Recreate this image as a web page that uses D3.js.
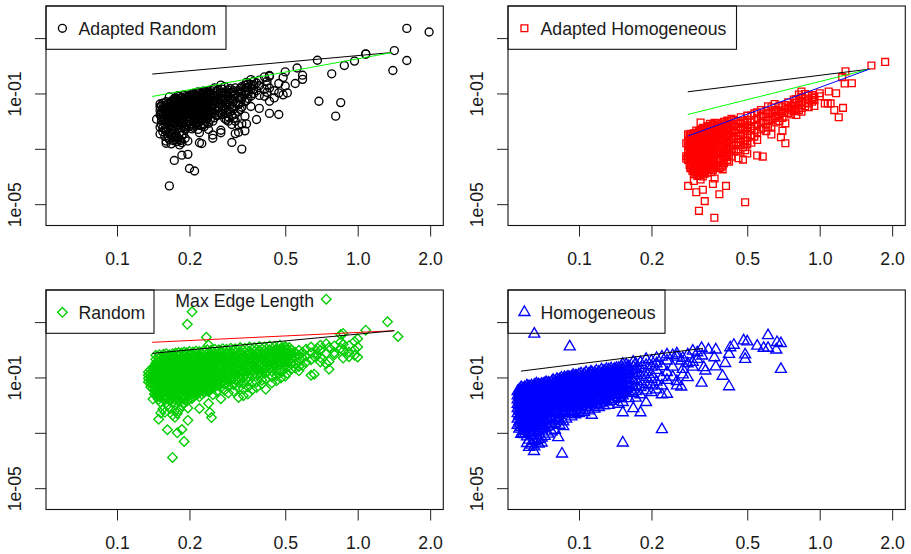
<!DOCTYPE html>
<html>
<head>
<meta charset="utf-8">
<script src="https://d3js.org/d3.v7.min.js"></script>
<style>
	body { margin: 0; background: #fff; }
	text { font-family: "Liberation Sans", Arial, sans-serif; fill: #1a1a1a; }
</style>
</head>
<body>
<div class="container"></div>
<script>
"use strict";

// every row is [edge length, log10(error), log10(error), ...]
const adaptedRandomPts = [
	[1.6, 1.35, 0.19], [1.98, 1.22], [1.42, 0.55], [1.4, -0.17], [1.08, 0.43, 0.42], [0.97, 0.17], [0.88, 0.01],
	[0.78, -0.29], [0.68, 0.2], [0.69, -1.28], [0.85, -1.33], [0.81, -1.82], [0.56, -0.08], [0.59, -0.34, -0.49],
	[0.55, -0.64], [0.51, -0.98], [0.5, -0.22, -0.73], [0.49, -0.42, -1.05], [0.47, -0.64, -1.76, -0.98], [0.45, -0.9, -1.16],
	[0.43, -0.35, -0.38, -1.72, -0.8, -1.28], [0.41, -0.4, -0.85, -1.1], [0.39, -0.52, -0.72, -1.07, -1.54], [0.38, -1.94, -0.62, -0.9],
	[0.36, -0.5, -0.67, -0.85, -1.1, -1.47], [0.345, -0.6, -0.78, -0.95, -1.25, -2.1], [0.34, -0.7, -0.9, -1.3, -1.82, -2.35],
	[0.33, -0.75, -1.0, -1.2, -1.5, -3.01, -2.1], [0.32, -0.9, -1.12, -1.4, -1.65, -2.15, -2.4], [0.31, -0.8, -1.05, -1.35, -1.75, -2.0, -2.45],
	[0.3, -0.95, -1.2, -1.48, -1.8, -2.12, -2.77], [0.29, -0.88, -1.1, -1.3, -1.6, -1.85, -2.0], [0.28, -0.75, -1.02, -1.25, -1.55, -1.9],
	[0.27, -0.7, -1.0, -1.18, -1.4, -1.7, -2.33, -2.42], [0.26, -0.92, -1.15, -1.32, -1.52, -1.8], [0.25, -0.85, -1.05, -1.28, -1.45, -1.7, -2.0, -2.5, -2.62],
	[0.24, -0.9, -1.0, -1.2, -1.36, -1.6, -1.78, -2.08, -2.3], [0.23, -0.95, -1.1, -1.25, -1.42, -1.58, -1.86, -2.1, -2.2], [0.225, -1.0, -1.3, -1.5, -1.72, -1.95, -2.81],
	[0.22, -0.98, -1.12, -1.27, -1.46, -1.66, -1.88, -2.04, -2.42, -2.78], [0.21, -1.02, -1.18, -1.35, -1.52, -1.7, -1.92, -2.15, -3.8], [0.205, -1.08, -1.24, -1.44, -1.62, -1.8, -2.28],
	[0.2, -1.05, -1.2, -1.38, -1.55, -1.74, -1.98, -2.18, -3.71], [0.197, -1.15, -1.3, -1.48, -1.67, -2.05, -2.72, -3.2], [0.192, -1.12, -1.28, -1.42, -1.6, -1.82, -2.3, -2.62],
	[0.186, -1.14, -1.3, -1.5, -1.7, -1.9, -2.12, -2.5, -2.78, -3.23], [0.182, -1.1, -1.26, -1.45, -1.62, -1.84, -2.02, -2.4, -2.66, -2.86], [0.177, -1.2, -1.36, -1.56, -1.78, -1.96, -2.2, -2.55, -2.74],
	[0.173, -1.18, -1.33, -1.52, -1.72, -1.92, -2.1, -2.35, -2.6, -3.42], [0.168, -1.28, -1.44, -1.62, -1.82, -2.06, -2.28, -2.48, -2.82], [0.165, -1.12, -1.4, -1.58, -1.76, -2.0, -2.42, -2.66, -4.34],
	[0.16, -1.3, -1.5, -1.66, -1.86, -2.02, -2.36, -2.72, -2.8], [0.155, -1.35, -1.55, -1.72, -1.9, -2.25, -2.38], [0.151, -1.38, -1.48, -1.62, -1.78, -2.22, -2.46], [0.146, -1.93],
	// the solid part of the cloud
	[0.153, -1.44, -1.68, -1.84, -1.98, -2.12], [0.158, -1.42, -1.6, -1.78, -1.94, -2.1, -2.3, -2.55], [0.163, -1.36, -1.54, -1.7, -1.92, -2.08, -2.26, -2.6],
	[0.171, -1.26, -1.46, -1.58, -1.68, -1.86, -2.02, -2.16, -2.3, -2.7], [0.175, -1.16, -1.3, -1.42, -1.6, -1.7, -1.88, -2.04, -2.44, -2.68], [0.179, -1.08, -1.24, -1.4, -1.5, -1.66, -1.8, -2.0, -2.14, -2.62],
	[0.184, -1.18, -1.34, -1.46, -1.58, -1.76, -1.94, -2.08, -2.24, -2.7], [0.189, -1.06, -1.22, -1.36, -1.54, -1.66, -1.86, -2.02, -2.2, -2.46], [0.194, -1.2, -1.34, -1.5, -1.64, -1.78, -1.92, -2.12, -2.26],
	[0.199, -1.1, -1.26, -1.44, -1.58, -1.72, -1.88, -2.04, -2.2], [0.203, -1.16, -1.32, -1.46, -1.6, -1.76, -1.9, -2.1], [0.207, -1.0, -1.14, -1.28, -1.42, -1.56, -1.66, -1.84, -2.02, -2.22],
	[0.213, -1.08, -1.22, -1.38, -1.5, -1.64, -1.78, -1.96, -2.1], [0.217, -0.94, -1.14, -1.32, -1.44, -1.58, -1.74, -1.9, -2.06, -2.3], [0.222, -1.04, -1.2, -1.36, -1.52, -1.62, -1.8, -1.98, -2.16],
	[0.228, -0.92, -1.06, -1.18, -1.34, -1.48, -1.64, -1.78, -1.92, -2.14], [0.234, -1.02, -1.16, -1.3, -1.46, -1.54, -1.7, -1.84, -2.0], [0.238, -0.96, -1.08, -1.24, -1.4, -1.56, -1.68, -1.9],
	[0.244, -0.88, -1.04, -1.16, -1.3, -1.44, -1.62, -1.76, -1.94], [0.254, -0.8, -0.98, -1.1, -1.24, -1.38, -1.56, -1.72, -1.88], [0.264, -0.86, -1.04, -1.2, -1.36, -1.5, -1.64, -1.78],
	[0.274, -0.84, -1.08, -1.22, -1.46, -1.6, -1.76], [0.285, -0.94, -1.14, -1.36, -1.5, -1.7, -1.96], [0.295, -0.82, -1.0, -1.24, -1.42, -1.66], [0.305, -0.9, -1.1, -1.28, -1.56, -1.9],
	[0.325, -0.82, -0.96, -1.16, -1.34, -1.58], [0.35, -0.66, -0.8, -1.02, -1.18], [0.37, -0.56, -0.7, -0.84, -1.0], [0.42, -0.56, -0.7, -0.96]
];

const adaptedHomogPts = [
	[1.87, 0.14], [1.64, 0.01], [1.36, -0.63], [1.28, -0.2], [1.27, -0.64], [1.25, -1.52], [1.24, -0.41], [1.2, -1.86], [1.17, -0.99], [1.15, -1.6],
	[1.11, -1.36], [1.09, -0.93], [1.08, -1.36], [1.05, -1.36], [1.0, -0.99, -1.1], [0.95, -1.14, -1.24, -1.45], [0.9, -1.08, -1.22, -1.36, -1.5], [0.84, -0.93, -1.12, -1.3, -1.52, -1.66],
	[0.8, -1.2, -1.34, -1.55, -1.78], [0.76, -1.46, -1.6, -1.76], [0.72, -1.42, -1.58, -2.08, -2.8], [0.7, -1.5, -1.7, -1.88, -2.35], [0.69, -1.66, -2.58], [0.66, -1.6, -1.82, -2.05],
	[0.63, -1.5, -1.72, -1.94, -2.2, -2.48], [0.6, -1.62, -1.84, -2.1, -2.36], [0.58, -1.75, -2.0, -2.24, -3.28], [0.55, -1.68, -1.9, -2.12, -2.4, -2.68, -3.24], [0.52, -1.8, -2.02, -2.26, -2.5, -2.78],
	[0.5, -1.95, -2.15, -2.36, -2.6, -2.84, -3.17], [0.49, -2.05, -2.3, -2.7, -3.05, -4.93], [0.48, -2.0, -2.22, -2.48, -2.72, -2.94, -3.39], [0.46, -2.1, -2.32, -2.54, -2.76, -3.02, -3.34], [0.44, -1.96, -2.16, -2.4, -2.6, -2.86, -3.1],
	[0.42, -2.04, -2.24, -2.46, -2.68, -2.92, -3.22, -3.46], [0.408, -2.12, -2.36, -2.58, -2.8, -3.0, -3.3, -4.34], [0.395, -2.08, -2.26, -2.5, -2.7, -2.96, -3.16, -3.6, -3.74], [0.383, -2.16, -2.38, -2.6, -2.84, -3.08, -3.36, -3.7, -4.64],
	[0.372, -2.2, -2.42, -2.62, -2.86, -3.1, -3.4, -3.66], [0.366, -2.06, -2.3, -2.52, -2.78, -3.02, -3.28, -3.58, -4.07], [0.36, -2.14, -2.34, -2.56, -2.76, -2.98, -3.2, -3.5, -3.76, -4.27], [0.35, -2.1, -2.28, -2.48, -2.7, -2.9, -3.14, -3.44, -3.72],
	[0.342, -2.18, -2.4, -2.6, -2.82, -3.04, -3.26, -3.54, -3.86], [0.333, -2.26, -2.46, -2.66, -2.88, -3.12, -3.32, -3.62, -3.9, -4.89], [0.327, -2.24, -2.44, -2.64, -2.84, -3.06, -3.3, -3.52, -3.78, -4.0, -4.48], [0.32, -2.05, -2.32, -2.5, -2.72, -2.94, -3.18, -3.42, -3.64, -3.94, -4.11],
	[0.315, -2.36, -2.56, -2.78, -3.0, -3.2, -3.46, -3.68, -3.96, -5.24], [0.31, -2.42, -2.62, -2.82, -3.04, -3.24, -3.48, -3.74, -3.98], [0.307, -2.34, -2.54, -2.74, -2.96, -3.16, -3.38, -3.6, -3.82, -4.57], [0.3, -2.44, -2.64, -2.86, -3.08, -3.28, -3.52, -3.76, -3.92, -4.16],
	[0.296, -2.5, -2.68, -2.9, -3.1, -3.34, -3.56, -3.8], [0.292, -2.46, -2.66, -2.84, -3.02, -3.22, -3.44, -3.66], [0.288, -2.52, -2.7, -2.92, -3.12, -3.36, -3.58], [0.284, -2.48, -2.72, -2.88, -3.06, -3.26, -3.4, -4.34], [0.279, -2.8, -3.27, -3.36],
	// the solid part of the cloud
	[0.365, -5.49], [0.29, -2.6, -2.78, -2.98, -3.18, -3.3, -3.5, -3.7], [0.298, -2.56, -2.76, -2.94, -3.14, -3.24, -3.42, -3.6, -3.72], [0.304, -2.48, -2.68, -2.8, -3.0, -3.12, -3.32, -3.44, -3.66, -3.86],
	[0.312, -2.46, -2.66, -2.86, -3.1, -3.28, -3.4, -3.56, -3.84], [0.318, -2.4, -2.6, -2.7, -2.9, -3.08, -3.22, -3.36, -3.54, -3.72], [0.324, -2.34, -2.54, -2.74, -2.98, -3.14, -3.38, -3.58, -3.88],
	[0.33, -2.3, -2.52, -2.72, -2.92, -3.02, -3.2, -3.44, -3.66, -3.82], [0.337, -2.28, -2.5, -2.7, -2.94, -3.16, -3.4, -3.6, -3.76], [0.346, -2.2, -2.38, -2.58, -2.8, -3.0, -3.22, -3.5, -3.64],
	[0.355, -2.24, -2.44, -2.62, -2.84, -3.06, -3.3, -3.56, -3.84], [0.363, -2.12, -2.4, -2.66, -2.9, -3.12, -3.4, -3.68], [0.377, -2.08, -2.28, -2.5, -2.72, -2.94, -3.18, -3.44, -3.6],
	[0.388, -2.22, -2.44, -2.66, -2.9, -3.14, -3.42, -3.66], [0.4, -2.02, -2.18, -2.4, -2.62, -2.86, -3.06, -3.26, -3.52], [0.413, -1.98, -2.28, -2.52, -2.74, -2.98, -3.14, -3.4], [0.43, -1.92, -2.1, -2.32, -2.54, -2.78, -3.0, -3.28],
	[0.45, -2.0, -2.2, -2.42, -2.64, -2.88, -3.08], [0.47, -1.86, -2.06, -2.28, -2.5, -2.66, -2.86], [0.5, -1.8, -2.02, -2.24, -2.46, -2.72], [0.535, -1.72, -1.96, -2.18, -2.34, -2.56], [0.57, -1.6, -1.82, -2.06, -2.3],
	[0.61, -1.46, -1.7, -1.98, -2.22], [0.65, -1.38, -1.66, -1.88], [0.68, -1.44, -1.62, -1.8, -2.0], [0.74, -1.32, -1.52, -1.7], [0.78, -1.22, -1.44, -1.64], [0.82, -1.04, -1.26, -1.42, -1.6], [0.87, -1.02, -1.18, -1.34, -1.46], [0.93, -1.06, -1.16, -1.3]
];

const randomPts = [
	[1.47, 0.48], [1.33, 1.01], [1.08, 0.71], [1.0, 0.1, -0.26, 0.4], [0.97, 0.3, 0.0, -0.2], [0.92, 0.15, -0.08, -0.25], [0.87, 0.59, 0.2, -0.04, -0.3], [0.85, 0.55, 0.28, 0.06],
	[0.8, 0.14, -0.1, -0.18], [0.76, -0.7, 0.08, -0.42], [0.74, 1.83, 0.22, -0.12, -0.5], [0.7, 0.16, -0.02, -0.28, -0.44], [0.68, 0.06, -0.16], [0.66, -0.88, -0.24], [0.64, -0.92, 0.1, -0.12, -0.36],
	[0.61, 0.02, -0.22, -0.45], [0.59, -0.1, -0.3, -0.58], [0.57, -0.76, -0.02, -0.2, -0.42, -0.6], [0.55, -0.1, -0.28, -0.5, -0.66], [0.53, -0.02, -0.18, -0.34, -0.52, -0.7], [0.51, 0.0, -0.14, -0.3, -0.46, -0.62, -0.85],
	[0.5, 0.1, -0.08, -0.24, -0.4, -0.56, -0.96], [0.48, 0.06, -0.12, -0.28, -0.44, -0.66, -0.82, -1.02], [0.46, -0.02, -0.2, -0.36, -0.52, -0.74, -0.94, -1.12], [0.44, -0.06, -0.26, -0.42, -0.6, -0.78, -0.98, -1.2],
	[0.415, -0.1, -0.3, -0.46, -0.64, -0.82, -1.06, -1.43], [0.4, -0.16, -0.34, -0.5, -0.68, -0.88, -1.1, -1.24], [0.38, -0.12, -0.3, -0.48, -0.66, -0.9, -1.16, -1.36], [0.365, -0.2, -0.38, -0.56, -0.72, -0.94, -1.2, -1.44],
	[0.35, -0.18, -0.36, -0.54, -0.74, -0.96, -1.14, -1.34, -1.6], [0.335, -0.24, -0.42, -0.6, -0.78, -1.0, -1.22, -1.42, -1.66], [0.32, -0.22, -0.4, -0.58, -0.76, -0.98, -1.18, -1.38, -1.72], [0.305, -0.02, -0.28, -0.46, -0.64, -0.82, -1.02, -1.26, -1.5],
	[0.29, -0.24, -0.44, -0.6, -0.8, -0.96, -1.14, -1.3, -1.56], [0.28, -0.3, -0.5, -0.7, -0.86, -1.04, -1.24, -1.46], [0.27, -0.12, -0.34, -0.52, -0.68, -0.84, -1.0, -1.18, -1.36, -1.77], [0.26, -0.28, -0.46, -0.62, -0.78, -0.94, -1.1, -1.28, -1.5],
	[0.25, -0.3, -0.44, -0.58, -0.72, -0.86, -1.02, -1.2, -1.38, -1.62], [0.247, -0.36, -0.5, -0.66, -0.8, -0.94, -1.08, -1.3, -2.45], [0.243, -0.32, -0.46, -0.6, -0.74, -0.9, -1.06, -1.22, -1.44, -2.27],
	[0.24, 0.17, -0.36, -0.52, -0.64, -0.78, -0.92, -1.12, -1.34, -1.52, -1.94], [0.235, 0.45, -0.34, -0.48, -0.62, -0.76, -0.9, -1.04, -1.18, -1.32, -1.48], [0.23, -0.38, -0.5, -0.64, -0.78, -0.92, -1.06, -1.2, -1.36, -1.54],
	[0.225, -0.32, -0.44, -0.58, -0.7, -0.84, -0.98, -1.12, -1.28, -1.42, -1.6], [0.22, -0.36, -0.48, -0.6, -0.72, -0.86, -1.0, -1.14, -1.26, -1.44, -1.7, -2.12], [0.215, -0.4, -0.52, -0.66, -0.78, -0.9, -1.04, -1.18, -1.3, -1.46, -1.62],
	[0.21, -0.34, -0.46, -0.58, -0.7, -0.82, -0.96, -1.08, -1.22, -1.36, -1.52, -1.66], [0.205, 1.37, -0.38, -0.5, -0.62, -0.74, -0.86, -1.0, -1.12, -1.24, -1.4, -1.56, -1.76], [0.2, -0.42, -0.54, -0.66, -0.76, -0.88, -1.02, -1.14, -1.28, -1.42, -1.58],
	[0.197, -0.4, -0.52, -0.64, -0.78, -0.92, -1.06, -1.18, -1.32, -1.48, -1.66, -2.1, -2.55], [0.196, 0.92, -0.46, -0.58, -0.7, -0.84, -0.96, -1.1, -1.26, -1.38, -1.54, -1.84], [0.19, -0.44, -0.56, -0.68, -0.8, -0.94, -1.08, -1.2, -1.34, -1.5, -1.68, -1.92, -3.31],
	[0.186, -0.5, -0.62, -0.72, -0.86, -0.98, -1.12, -1.24, -1.38, -1.52, -1.7, -2.02, -2.88], [0.182, -0.46, -0.58, -0.7, -0.82, -0.94, -1.06, -1.2, -1.32, -1.46, -1.62, -1.86, -2.16], [0.178, -0.48, -0.6, -0.74, -0.88, -1.0, -1.14, -1.28, -1.42, -1.58, -1.76, -2.3, -3.0],
	[0.174, -0.52, -0.64, -0.76, -0.9, -1.02, -1.16, -1.3, -1.44, -1.6, -1.8, -2.2, -2.44], [0.17, -0.5, -0.62, -0.74, -0.86, -0.98, -1.1, -1.24, -1.36, -1.5, -1.66, -1.9, -2.36, -3.89], [0.166, -0.54, -0.66, -0.78, -0.92, -1.04, -1.18, -1.32, -1.46, -1.62, -1.84, -2.12],
	[0.162, -0.52, -0.64, -0.76, -0.88, -1.0, -1.12, -1.26, -1.4, -1.54, -1.72, -2.0, -2.89], [0.158, -0.56, -0.68, -0.8, -0.94, -1.06, -1.2, -1.34, -1.48, -1.64, -1.82, -2.26], [0.155, -0.54, -0.66, -0.78, -0.9, -1.02, -1.14, -1.28, -1.42, -1.56, -1.74, -2.14],
	[0.152, -0.58, -0.7, -0.84, -0.96, -1.08, -1.22, -1.36, -1.5, -1.66, -1.9, -2.28], [0.149, -0.56, -0.68, -0.8, -0.92, -1.04, -1.16, -1.3, -1.44, -1.58, -1.8, -2.51], [0.146, -0.6, -0.72, -0.86, -0.98, -1.1, -1.24, -1.38, -1.52, -1.7],
	[0.143, -0.58, -0.7, -0.82, -0.94, -1.06, -1.18, -1.32, -1.46, -1.6], [0.141, -0.64, -0.76, -0.88, -1.0, -1.12, -1.26, -1.4, -1.78], [0.138, -0.72, -0.84, -0.96, -1.08, -1.2, -1.34], [0.135, -0.8, -0.92, -1.04, -1.16],
	// the solid part of the cloud, up to the black line
	[0.145, -0.2, -0.34, -0.48, -0.66, -0.78, -0.92, -1.04, -1.18, -1.34, -1.48, -1.62], [0.15, -0.18, -0.3, -0.44, -0.62, -0.74, -0.88, -1.0, -1.12, -1.26, -1.4, -1.54, -1.7], [0.156, -0.16, -0.28, -0.42, -0.6, -0.72, -0.86, -0.98, -1.1, -1.24, -1.38, -1.52, -1.68],
	[0.16, -0.14, -0.32, -0.46, -0.62, -0.74, -0.84, -0.96, -1.08, -1.22, -1.36, -1.5, -1.66], [0.165, -0.18, -0.3, -0.44, -0.6, -0.7, -0.82, -0.94, -1.06, -1.2, -1.34, -1.48, -1.64, -1.8], [0.17, -0.14, -0.28, -0.4, -0.56, -0.68, -0.8, -0.92, -1.04, -1.18, -1.3, -1.44, -1.58, -1.74],
	[0.175, -0.12, -0.26, -0.38, -0.54, -0.66, -0.78, -0.9, -1.02, -1.14, -1.26, -1.4, -1.54, -1.7], [0.18, -0.1, -0.24, -0.36, -0.52, -0.64, -0.76, -0.88, -1.0, -1.12, -1.24, -1.38, -1.52, -1.66, -1.84], [0.185, -0.12, -0.26, -0.4, -0.56, -0.66, -0.78, -0.92, -1.04, -1.16, -1.28, -1.42, -1.56, -1.72],
	[0.19, -0.08, -0.22, -0.34, -0.5, -0.62, -0.74, -0.86, -0.98, -1.1, -1.22, -1.36, -1.48, -1.62, -1.8], [0.195, -0.1, -0.24, -0.38, -0.52, -0.64, -0.76, -0.9, -1.04, -1.16, -1.28, -1.44, -1.6, -1.74], [0.2, -0.06, -0.2, -0.32, -0.48, -0.6, -0.72, -0.84, -0.96, -1.08, -1.2, -1.34, -1.46, -1.6, -1.78],
	[0.207, -0.08, -0.22, -0.36, -0.52, -0.64, -0.76, -0.88, -1.02, -1.14, -1.26, -1.42, -1.58], [0.213, -0.04, -0.18, -0.3, -0.46, -0.6, -0.72, -0.84, -0.98, -1.1, -1.24, -1.38, -1.54], [0.22, -0.06, -0.2, -0.34, -0.5, -0.62, -0.76, -0.92, -1.06, -1.2, -1.34, -1.5],
	[0.228, -0.04, -0.18, -0.3, -0.44, -0.56, -0.7, -0.86, -1.0, -1.14, -1.28, -1.44], [0.237, 0.0, -0.14, -0.28, -0.42, -0.58, -0.72, -0.84, -0.98, -1.1, -1.26, -1.4], [0.246, -0.02, -0.16, -0.26, -0.4, -0.54, -0.68, -0.82, -0.96, -1.12, -1.24, -1.36],
	[0.255, 0.02, -0.12, -0.24, -0.38, -0.52, -0.66, -0.8, -0.92, -1.06, -1.18, -1.34], [0.265, 0.0, -0.14, -0.26, -0.4, -0.54, -0.7, -0.82, -0.96, -1.12, -1.26], [0.275, 0.04, -0.1, -0.22, -0.36, -0.48, -0.62, -0.76, -0.9, -1.02, -1.16],
	[0.285, 0.02, -0.12, -0.26, -0.38, -0.52, -0.66, -0.78, -0.92, -1.08, -1.22], [0.297, 0.06, -0.08, -0.2, -0.34, -0.46, -0.6, -0.72, -0.88, -1.0, -1.12], [0.31, 0.04, -0.1, -0.24, -0.38, -0.52, -0.66, -0.8, -0.94, -1.08],
	[0.325, 0.08, -0.06, -0.18, -0.32, -0.46, -0.6, -0.74, -0.86, -1.04], [0.34, 0.06, -0.08, -0.22, -0.34, -0.5, -0.64, -0.78, -0.9], [0.355, 0.1, -0.04, -0.16, -0.28, -0.44, -0.58, -0.7, -0.84],
	[0.372, 0.08, -0.06, -0.2, -0.32, -0.46, -0.6, -0.76, -0.86], [0.39, 0.12, -0.02, -0.14, -0.26, -0.4, -0.54, -0.7, -0.82], [0.41, 0.1, -0.04, -0.18, -0.32, -0.44, -0.58, -0.72], [0.43, 0.14, 0.0, -0.14, -0.28, -0.4, -0.54, -0.68],
	[0.452, 0.12, -0.04, -0.16, -0.3, -0.46, -0.6], [0.475, 0.16, 0.02, -0.1, -0.24, -0.38, -0.52], [0.5, 0.12, 0.0, -0.16, -0.3, -0.44], [0.52, 0.08, -0.06, -0.2, -0.38]
];

const homogeneousPts = [
	[0.69, -0.7, 0.23], [0.665, 0.27], [0.66, 0.0], [0.61, 0.52, 0.06], [0.585, 0.06], [0.55, 0.14], [0.5, 0.29], [0.49, -0.18, -0.34], [0.483, 0.33], [0.44, 0.17], [0.425, 0.08], [0.42, -0.16, -1.33],
	[0.405, -0.49], [0.395, -0.95], [0.37, 0.0, -0.61], [0.365, -0.28], [0.345, 0.0], [0.335, -0.76], [0.33, -0.64], [0.325, -0.22], [0.323, 0.06, -1.2], [0.31, -0.1, -0.34], [0.297, -0.04, -0.45, -0.62], [0.283, -0.18, -0.5, -1.0],
	[0.27, -0.3, -0.7, -0.9], [0.266, -0.4, -1.34], [0.255, -0.14, -0.26, -1.14, -1.3], [0.245, -0.2, -0.62, -0.98], [0.232, -0.18, -0.4, -0.82, -1.1, -1.6], [0.221, -0.26, -0.6, -1.0, -1.3, -1.62, -2.88], [0.21, -0.3, -0.5, -0.74, -1.16, -1.44],
	[0.2, -0.4, -0.62, -0.88, -1.06, -1.3, -1.54], [0.19, -0.34, -0.56, -0.8, -1.0, -1.24, -1.48, -1.9], [0.18, -0.46, -0.68, -0.92, -1.14, -1.36, -1.62, -2.27], [0.172, -0.5, -0.7, -0.86, -1.06, -1.28, -1.5, -1.74], [0.168, -0.44, -0.62, -0.84, -1.1, -1.34, -1.58, -2.12],
	[0.161, -0.6, -0.74, -0.9, -1.04, -1.2, -1.36, -1.52, -1.76], [0.152, -0.52, -0.68, -0.82, -0.98, -1.12, -1.28, -1.46, -1.66, -1.9, -2.27, -3.36], [0.146, -0.66, -0.8, -0.94, -1.08, -1.24, -1.4, -1.56, -1.72, -1.96], [0.14, -0.7, -0.84, -0.96, -1.1, -1.26, -1.42, -1.58, -1.78],
	[0.133, -0.72, -0.86, -1.0, -1.14, -1.28, -1.44, -1.6, -1.8, -2.0], [0.127, -0.76, -0.9, -1.04, -1.16, -1.3, -1.46, -1.62, -1.82, -2.02], [0.121, -0.8, -0.92, -1.06, -1.2, -1.34, -1.5, -1.66, -1.84, -2.08], [0.116, -0.84, -0.96, -1.08, -1.22, -1.36, -1.52, -1.7, -1.88, -2.14],
	[0.113, -0.82, -0.98, -1.12, -1.26, -1.4, -1.56, -1.74, -1.94, -2.36], [0.11, -0.86, -1.0, -1.14, -1.28, -1.44, -1.58, -1.76, -1.96, -2.2], [0.105, -0.88, -1.02, -1.16, -1.3, -1.46, -1.62, -1.8, -1.98, -2.26], [0.1, -0.9, -1.04, -1.18, -1.32, -1.46, -1.6, -1.78, -1.96, -2.14, -2.3],
	[0.0965, -0.94, -1.08, -1.22, -1.36, -1.5, -1.66, -1.84, -2.02, -2.2, -2.34], [0.093, -0.98, -1.1, -1.24, -1.38, -1.52, -1.68, -1.86, -2.04, -2.24, -2.42], [0.0915, 0.11, -1.0, -1.14, -1.28, -1.42, -1.56, -1.72, -1.88, -2.06, -2.28], [0.0885, -1.02, -1.16, -1.3, -1.44, -1.58, -1.74, -1.9, -2.08, -2.26, -2.5],
	[0.086, -1.06, -1.2, -1.34, -1.46, -1.6, -1.76, -1.92, -2.1, -2.3, -2.6, -2.77], [0.085, -3.76], [0.083, -1.08, -1.22, -1.36, -1.5, -1.64, -1.78, -1.94, -2.12, -2.34, -2.56, -2.72], [0.082, -1.12, -1.26, -1.4, -1.54, -1.68, -1.84, -2.0, -2.2, -2.44, -3.17],
	[0.0795, -1.14, -1.28, -1.42, -1.56, -1.7, -1.86, -2.02, -2.22, -2.46, -2.66, -2.9], [0.077, -1.16, -1.3, -1.44, -1.58, -1.72, -1.88, -2.04, -2.24, -2.48, -2.7, -2.96], [0.0745, -1.2, -1.32, -1.46, -1.6, -1.74, -1.9, -2.06, -2.26, -2.52, -2.78, -3.04], [0.072, -1.22, -1.36, -1.5, -1.64, -1.78, -1.94, -2.1, -2.3, -2.56, -2.82, -3.12],
	[0.07, -1.24, -1.38, -1.52, -1.66, -1.8, -1.96, -2.12, -2.32, -2.6, -2.86, -3.18, -3.36], [0.068, -1.26, -1.4, -1.54, -1.68, -1.82, -1.98, -2.14, -2.34, -2.62, -2.92, -3.24, -3.4], [0.0665, -1.22, -1.36, -1.48, -1.62, -1.76, -1.92, -2.08, -2.28, -2.5, -2.74, -3.0, -3.28],
	[0.0652, 0.57, -1.28, -1.42, -1.56, -1.7, -1.86, -2.02, -2.18, -2.38, -2.66, -2.96, -3.3, -3.5], [0.065, -3.67], [0.0635, -1.3, -1.44, -1.58, -1.72, -1.84, -2.0, -2.16, -2.36, -2.58, -2.84, -3.1, -3.44], [0.062, -1.32, -1.46, -1.6, -1.74, -1.88, -2.04, -2.2, -2.42, -2.7, -2.98, -3.26, -3.52],
	[0.0608, -1.3, -1.44, -1.56, -1.7, -1.82, -1.96, -2.12, -2.3, -2.48, -2.76, -3.14, -3.38], [0.0595, -1.36, -1.5, -1.64, -1.78, -1.92, -2.08, -2.24, -2.4, -2.64, -2.9, -3.06], [0.0585, -1.4, -1.54, -1.68, -1.8, -1.94, -2.1, -2.26, -2.44, -2.68, -2.94, -3.02],
	[0.0575, -1.36, -1.52, -1.66, -1.82, -1.98, -2.14, -2.32, -2.54, -2.8, -3.05], [0.0565, -1.44, -1.58, -1.72, -1.86, -2.0, -2.18, -2.36, -2.6, -2.86], [0.0556, -1.5, -1.66, -1.8, -1.96, -2.12, -2.3, -2.5, -2.72],
	// the solid part of the cloud
	[0.057, -1.46, -1.6, -1.74, -1.9, -2.06, -2.22, -2.42, -2.66], [0.059, -1.42, -1.56, -1.7, -1.84, -2.02, -2.16, -2.34, -2.56, -2.78], [0.061, -1.38, -1.52, -1.66, -1.8, -1.9, -2.06, -2.26, -2.38, -2.6, -2.84],
	[0.063, -1.36, -1.5, -1.64, -1.78, -1.92, -2.08, -2.24, -2.44, -2.72, -2.9], [0.065, -1.34, -1.48, -1.62, -1.76, -1.9, -2.06, -2.22, -2.42, -2.56, -2.8], [0.067, -1.3, -1.44, -1.58, -1.72, -1.88, -2.04, -2.2, -2.4, -2.68, -2.84],
	[0.069, -1.28, -1.44, -1.6, -1.74, -1.86, -2.02, -2.18, -2.38, -2.54, -2.76], [0.071, -1.24, -1.4, -1.56, -1.7, -1.84, -2.0, -2.16, -2.36, -2.5, -2.72], [0.073, -1.18, -1.34, -1.48, -1.62, -1.76, -1.92, -2.08, -2.28, -2.44, -2.66],
	[0.0755, -1.22, -1.36, -1.52, -1.66, -1.8, -1.96, -2.12, -2.3, -2.42, -2.6], [0.078, -1.1, -1.24, -1.38, -1.5, -1.64, -1.78, -1.94, -2.1, -2.3, -2.56], [0.081, -1.06, -1.18, -1.32, -1.46, -1.6, -1.74, -1.9, -2.06, -2.26, -2.5],
	[0.0845, -1.02, -1.14, -1.28, -1.4, -1.54, -1.7, -1.84, -2.02, -2.22], [0.087, -1.0, -1.12, -1.26, -1.4, -1.52, -1.66, -1.82, -1.98, -2.18], [0.09, -0.98, -1.06, -1.2, -1.34, -1.48, -1.62, -1.78, -1.94, -2.12],
	[0.0945, -0.92, -1.02, -1.16, -1.3, -1.44, -1.58, -1.74, -1.9, -2.08, -2.26], [0.098, -0.94, -1.1, -1.26, -1.4, -1.54, -1.72, -1.88, -2.06], [0.102, -0.86, -0.98, -1.12, -1.26, -1.4, -1.54, -1.7, -1.88, -2.04, -2.2],
	[0.107, -0.82, -0.96, -1.1, -1.24, -1.38, -1.52, -1.7, -1.9, -2.08], [0.112, -0.8, -0.92, -1.06, -1.2, -1.32, -1.48, -1.64, -1.82, -2.02], [0.118, -0.76, -0.9, -1.02, -1.14, -1.28, -1.44, -1.6, -1.78, -1.98],
	[0.124, -0.72, -0.86, -0.98, -1.12, -1.26, -1.4, -1.56, -1.74, -1.92], [0.13, -0.7, -0.82, -0.94, -1.08, -1.22, -1.38, -1.52, -1.7, -1.88], [0.136, -0.68, -0.78, -0.9, -1.04, -1.18, -1.34, -1.5, -1.66, -1.86],
	[0.143, -0.66, -0.76, -0.88, -1.02, -1.16, -1.32, -1.48, -1.64], [0.15, -0.6, -0.72, -0.86, -1.0, -1.14, -1.3, -1.44, -1.6, -1.76], [0.157, -0.54, -0.66, -0.78, -0.92, -1.08, -1.24, -1.4, -1.56]
];

// fitted lines, as x and log10(y) of both ends
const adaptedRandomLines = [
	{ color: "#000000", x: [0.14, 1.39], y: [-0.3, 0.48] },
	{ color: "#00ff00", x: [0.14, 1.39], y: [-1.11, 0.48] }
];
const adaptedHomogLines = [
	{ color: "#000000", x: [0.283, 1.61], y: [-0.94, -0.12] },
	{ color: "#00ff00", x: [0.283, 1.61], y: [-1.76, -0.12] },
	{ color: "#0000ff", x: [0.283, 1.61], y: [-2.54, -0.12] }
];
const randomLines = [
	{ color: "#ff0000", x: [0.14, 1.42], y: [0.27, 0.69] },
	{ color: "#000000", x: [0.14, 1.42], y: [-0.13, 0.69] }
];
const homogeneousLines = [
	{ color: "#000000", x: [0.0574, 0.327], y: [-0.77, 0.05] }
];

const xTicks = [0.1, 0.2, 0.5, 1.0, 2.0];
const yTicks = [10, 0.1, 0.001, 0.00001];
const yTickLabels = { 0.1: "1e-01", 0.00001: "1e-05" }; // R drops the other two

const p = {
	svgWidth: 911,
	svgHeight: 554,
	boxWidth: 397.3,
	boxHeight: 219.5,
	tickLen: 11,
	fontSize: 17.7,
	markStroke: 1.35
};

const panels = [
	{ name: "Adapted Random", pts: adaptedRandomPts, lines: adaptedRandomLines, color: "#000000", symbol: d3.symbolCircle, size: 50, left: 46, top: 6, legendW: 180 },
	{ name: "Adapted Homogeneous", pts: adaptedHomogPts, lines: adaptedHomogLines, color: "#ff0000", symbol: d3.symbolSquare, size: 46, left: 508, top: 6, legendW: 228.5 },
	{ name: "Random", pts: randomPts, lines: randomLines, color: "#00cd00", symbol: d3.symbolSquare, size: 46, turn: 45, left: 46, top: 290, legendW: 108 },
	{ name: "Homogeneous", pts: homogeneousPts, lines: homogeneousLines, color: "#0000ff", symbol: d3.symbolTriangle, size: 52, left: 508, top: 290, legendW: 157 }
];

const svg = d3.select(".container")
	.append("svg")
	.attr("width", p.svgWidth)
	.attr("height", p.svgHeight)
	.style("display", "block");

panels.forEach(function(panel) {
	const g = svg.append("g").attr("transform", `translate(${panel.left},${panel.top})`);

	const x = d3.scaleLog().domain([0.0507, 2.268]).range([0, p.boxWidth]);
	const y = d3.scaleLog().domain([10 ** -5.77, 10 ** 2.16]).range([p.boxHeight, 0]);

	// flatten the [x, y, y, y] rows
	const points = panel.pts.flatMap(row => row.slice(1).map(v => [row[0], 10 ** v]));
	const sym = d3.symbol().type(panel.symbol).size(panel.size);

	g.selectAll("path.pt")
		.data(points)
		.enter()
		.append("path")
		.attr("class", "pt")
		.attr("d", sym)
		.attr("transform", d => `translate(${x(d[0])},${y(d[1])}) rotate(${panel.turn || 0})`)
		.attr("fill", "none")
		.attr("stroke", panel.color)
		.attr("stroke-width", p.markStroke);

	panel.lines.forEach(function(l) {
		g.append("line")
			.attr("x1", x(l.x[0]))
			.attr("y1", y(10 ** l.y[0]))
			.attr("x2", x(l.x[1]))
			.attr("y2", y(10 ** l.y[1]))
			.attr("stroke", l.color)
			.attr("stroke-width", 1);
	});

	// axes
	const xAxis = d3.axisBottom(x).tickValues(xTicks).tickFormat(d3.format(".1f")).tickSize(p.tickLen).tickPadding(16);
	const yAxis = d3.axisLeft(y).tickValues(yTicks).tickFormat(d => yTickLabels[d] || "").tickSize(p.tickLen);

	const gx = g.append("g").attr("transform", `translate(0,${p.boxHeight})`).call(xAxis);
	const gy = g.append("g").call(yAxis);
	gx.select(".domain").remove();
	gy.select(".domain").remove();
	gx.selectAll("line").attr("stroke", "#222");
	gy.selectAll("line").attr("stroke", "#222");
	gx.selectAll("text").attr("font-size", p.fontSize).style("font-family", '"Liberation Sans"').style("fill", "#1a1a1a");
	gy.selectAll("text")
		.attr("font-size", p.fontSize)
		.style("font-family", '"Liberation Sans"')
		.style("fill", "#1a1a1a")
		.attr("text-anchor", "middle")
		.attr("dy", 0)
		.attr("x", 0)
		.attr("transform", "translate(-25,0) rotate(-90)");

	// box
	g.append("rect")
		.attr("width", p.boxWidth)
		.attr("height", p.boxHeight)
		.attr("fill", "none")
		.attr("stroke", "#111")
		.attr("stroke-width", 1.1);

	// legend
	g.append("rect")
		.attr("width", panel.legendW)
		.attr("height", 43.3)
		.attr("fill", "none")
		.attr("stroke", "#111")
		.attr("stroke-width", 1.1);
	g.append("path")
		.attr("d", sym)
		.attr("transform", `translate(16.4,22.3) rotate(${panel.turn || 0})`)
		.attr("fill", "none")
		.attr("stroke", panel.color)
		.attr("stroke-width", p.markStroke);
	g.append("text")
		.attr("x", 32.5)
		.attr("y", 29)
		.attr("font-size", p.fontSize)
		.text(panel.name);
});

// stray axis title that ended up on the lower left panel
svg.append("text")
	.attr("x", 244.7)
	.attr("y", 307)
	.attr("text-anchor", "middle")
	.attr("font-size", p.fontSize)
	.text("Max Edge Length");
</script>
</body>
</html>
